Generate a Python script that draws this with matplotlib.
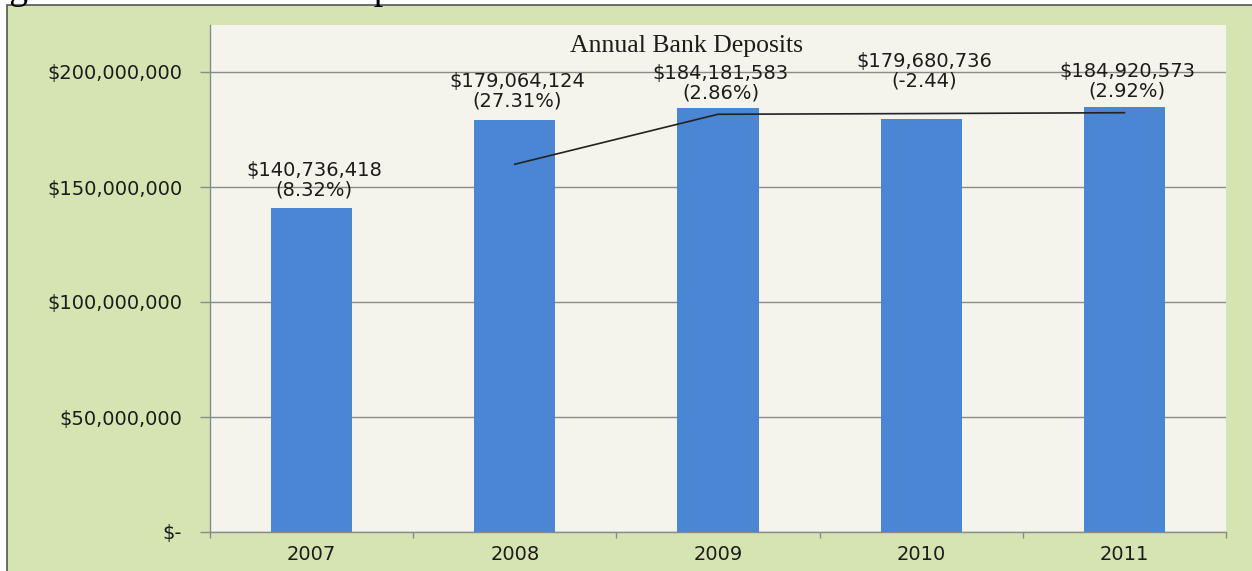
import matplotlib
matplotlib.use("Agg")
import matplotlib.pyplot as plt
from matplotlib.patches import Rectangle
from matplotlib.ticker import FuncFormatter, FixedLocator

# Annual deposits and year-over-year change
years = ["2007", "2008", "2009", "2010", "2011"]
deposits = [140736418, 179064124, 184181583, 179680736, 184920573]
changes = ["(8.32%)", "(27.31%)", "(2.86%)", "(-2.44)", "(2.92%)"]
# two-period moving average trendline (2008 onward)
trend_years = ["2008", "2009", "2010", "2011"]
trend_values = [159900271, 181622854, 181931160, 182300655]

W, H = 1252, 571
fig = plt.figure(figsize=(W / 100, H / 100), dpi=100)
fig.patch.set_facecolor("white")

GREEN = "#D6E4B2"
PLOT_BG = "#F4F4EC"
BAR = "#4A86D3"
GRID = "#8A8A8A"
TXT = "#1C1C1C"
FS = 14

def px(x, y):
    return x / W, 1 - y / H

# chart frame
x0, y0 = px(7, 5)
frame = Rectangle((x0, -0.01), 1.02 - x0, y0 + 0.01, transform=fig.transFigure,
                  facecolor=GREEN, edgecolor="#555555", linewidth=1.2, zorder=-10)
fig.patches.append(frame)

# caption line above the chart (mostly cut off at the top edge)
fig.text(-22 / W, 1 + 1 / H, "Figure 6: Annual Bank Deposits", fontsize=27,
         family="Liberation Serif", color="black", ha="left", va="baseline")

left, right = 210 / W, 1226 / W
bottom, top = 1 - 532 / H, 1 - 25 / H
ax = fig.add_axes([left, bottom, right - left, top - bottom])
ax.set_facecolor(PLOT_BG)

xpos = list(range(len(years)))
ax.bar(xpos, deposits, width=0.40, color=BAR, zorder=3)

tx = [years.index(y) for y in trend_years]
ax.plot(tx, trend_values, color="#222222", linewidth=1.2, zorder=4)

ymax = 50_000_000 * (532 - 25) / 115
ax.set_ylim(0, ymax)
ax.set_xlim(-0.5, len(years) - 0.5)

ax.set_yticks([0, 50e6, 100e6, 150e6, 200e6])
ax.yaxis.set_major_formatter(FuncFormatter(lambda v, p: "$-" if v == 0 else f"${v:,.0f}"))
ax.grid(axis="y", color=GRID, linewidth=1.0, zorder=1)
ax.tick_params(axis="y", length=7, width=1, color=GRID, pad=13, labelsize=FS,
               labelcolor=TXT)

ax.set_xticks(xpos)
ax.set_xticklabels(years)
ax.xaxis.set_minor_locator(FixedLocator([i - 0.5 for i in range(len(years) + 1)]))
ax.tick_params(axis="x", which="major", length=0, pad=9, labelsize=FS, labelcolor=TXT)
ax.tick_params(axis="x", which="minor", length=4, width=1, color=GRID)

for lab in ax.get_xticklabels() + ax.get_yticklabels():
    lab.set_family("DejaVu Sans")

for s in ("top", "right"):
    ax.spines[s].set_visible(False)
for s in ("left", "bottom"):
    ax.spines[s].set_color(GRID)
    ax.spines[s].set_linewidth(1.0)

# value labels above each bar (pixels above bar top)
label_lift = [9, 10, 6, 28, 6]
for i, (v, c) in enumerate(zip(deposits, changes)):
    ax.annotate(f"${v:,.0f}\n{c}", xy=(i, v), xytext=(2, label_lift[i] * 0.72),
                textcoords="offset points", ha="center", va="bottom",
                fontsize=FS, family="DejaVu Sans", color=TXT,
                linespacing=1.03, zorder=5)

fig.text(686 / W, 1 - 46 / H, "Annual Bank Deposits", fontsize=18.5,
         family="Liberation Serif", color=TXT, ha="center", va="center")

fig.savefig("out.png", dpi=100, facecolor=fig.get_facecolor())
